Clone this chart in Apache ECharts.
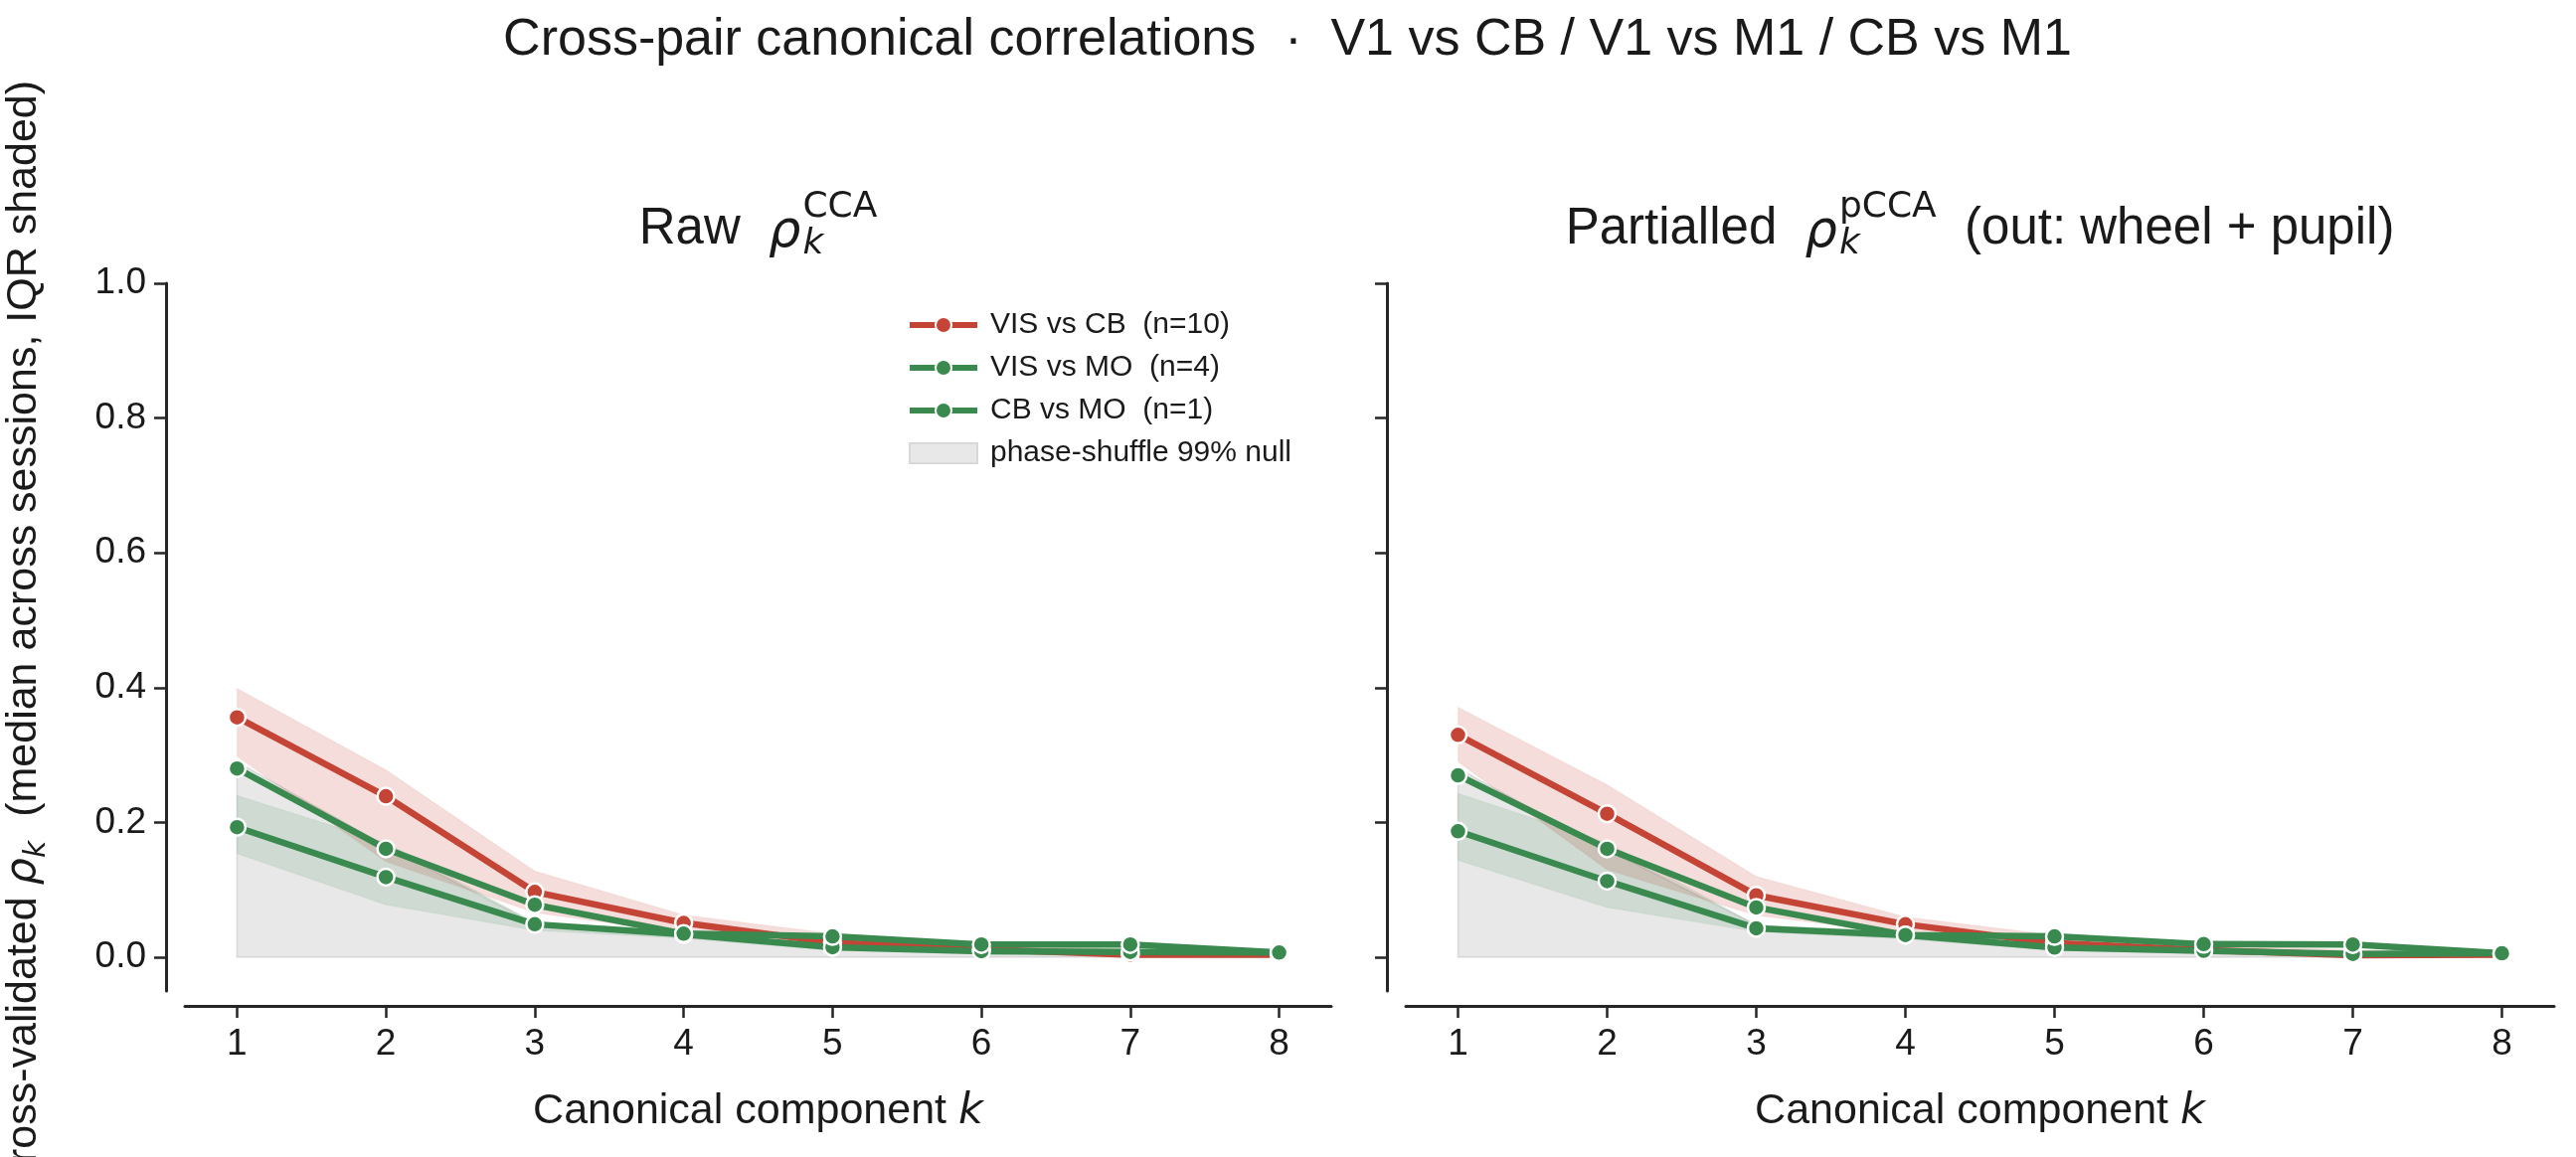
<!DOCTYPE html>
<html>
<head>
<meta charset="utf-8">
<title>Cross-pair canonical correlations</title>
<script src="https://cdn.jsdelivr.net/npm/echarts@6/dist/echarts.min.js"></script>
<style>
  html, body { margin: 0; padding: 0; background: #fff; }
  #chart { width: 2591px; height: 1164px; }
</style>
</head>
<body>
<div id="chart"></div>
<script>
// canonical component index k and y ticks
const components = [1, 2, 3, 4, 5, 6, 7, 8];
const yTicks = [0, 0.2, 0.4, 0.6, 0.8, 1.0];

// raw CCA (left panel): medians, IQR bounds, null ceiling
const rawVisCb = [0.356, 0.239, 0.097, 0.051, 0.022, 0.012, 0.004, 0.004];
const rawVisCbLo = [0.298, 0.142, 0.066, 0.036, 0.012, 0.006, 0.001, 0.001];
const rawVisCbHi = [0.399, 0.278, 0.128, 0.063, 0.035, 0.020, 0.012, 0.007];
const rawVisMo = [0.193, 0.119, 0.049, 0.034, 0.015, 0.009, 0.008, 0.007];
const rawVisMoLo = [0.154, 0.078, 0.040, 0.028, 0.010, 0.005, 0.004, 0.004];
const rawVisMoHi = [0.240, 0.170, 0.052, 0.040, 0.022, 0.013, 0.011, 0.009];
const rawCbMo = [0.280, 0.161, 0.078, 0.035, 0.031, 0.019, 0.019, 0.007];
const rawNull = [0.290, 0.165, 0.050, 0.030, 0.016, 0.011, 0.008, 0.005];

// partialled CCA (right panel)
const parVisCb = [0.330, 0.213, 0.092, 0.049, 0.021, 0.011, 0.003, 0.004];
const parVisCbLo = [0.290, 0.130, 0.062, 0.035, 0.012, 0.005, 0.001, 0.001];
const parVisCbHi = [0.371, 0.256, 0.120, 0.060, 0.033, 0.019, 0.011, 0.007];
const parVisMo = [0.187, 0.113, 0.043, 0.033, 0.0145, 0.0096, 0.005, 0.006];
const parVisMoLo = [0.144, 0.074, 0.038, 0.027, 0.010, 0.005, 0.003, 0.004];
const parVisMoHi = [0.243, 0.170, 0.048, 0.038, 0.020, 0.013, 0.009, 0.008];
const parCbMo = [0.270, 0.161, 0.074, 0.033, 0.031, 0.0195, 0.019, 0.006];
const parNull = [0.280, 0.160, 0.048, 0.030, 0.016, 0.011, 0.008, 0.005];

const zeros = components.map(() => 0);

const nameVisCb = "VIS vs CB  (n=10)";
const nameVisMo = "VIS vs MO  (n=4)";
const nameCbMo = "CB vs MO  (n=1)";
const nameNull = "phase-shuffle 99% null";

const RED = "#c44536";
const GREEN = "#3a8a4f";
const INK = "#1a1a1a";
const SANS = '"Liberation Sans", Arial, Helvetica, sans-serif';
const MATH = '"DejaVu Sans", sans-serif';

// plot areas (pixels); outer bounds off so names may run off the page
const grids = [
  { left: 186, top: 285, width: 1153, height: 712, outerBoundsMode: "none" },
  { left: 1414, top: 285, width: 1155, height: 712, outerBoundsMode: "none" },
];

function bandSeries(name, lo, hi, fill, stroke, idx) {
  return {
    type: "custom",
    name,
    xAxisIndex: idx,
    yAxisIndex: idx,
    data: components.map((k, i) => [k, lo[i], hi[i]]),
    encode: { x: 0, y: [1, 2] },
    itemStyle: { color: fill },
    silent: true,
    z: 1,
    renderItem: (params, api) => {
      if (params.dataIndex !== 0) return null;
      const upper = components.map((k, i) => api.coord([k, hi[i]]));
      const lower = components.map((k, i) => api.coord([k, lo[i]])).reverse();
      return {
        type: "polygon",
        shape: { points: upper.concat(lower) },
        style: { fill, stroke, lineWidth: 1.5 },
      };
    },
  };
}

function lineSeries(name, values, color, idx) {
  return {
    type: "line",
    name,
    xAxisIndex: idx,
    yAxisIndex: idx,
    data: components.map((k, i) => [k, values[i]]),
    symbol: "circle",
    symbolSize: 17,
    z: 3,
    lineStyle: { color, width: 6.5 },
    itemStyle: { color, borderColor: "#fff", borderWidth: 2.5 },
    emphasis: { disabled: true },
  };
}

function xAxisFor(idx) {
  return {
    type: "value",
    gridIndex: idx,
    min: 0.65,
    max: 8.35,
    offset: 15,
    name: "Canonical component {i|k}",
    nameLocation: "middle",
    nameGap: 85,
    nameTextStyle: {
      fontFamily: SANS, fontSize: 43, color: INK,
      rich: { i: { fontFamily: MATH, fontStyle: "italic", fontSize: 43, color: INK } },
    },
    axisLine: { show: true, onZero: false, lineStyle: { color: "#262626", width: 3 } },
    axisTick: { show: true, customValues: components, length: 12, lineStyle: { color: "#262626", width: 2.5 } },
    axisLabel: { customValues: components, margin: 20, fontFamily: SANS, fontSize: 37, color: INK },
    splitLine: { show: false },
  };
}

function yAxisFor(idx) {
  const axis = {
    type: "value",
    gridIndex: idx,
    min: -0.05,
    max: 1.0,
    offset: 19,
    axisLine: { show: true, onZero: false, lineStyle: { color: "#262626", width: 3 } },
    axisTick: { show: true, customValues: yTicks, length: 12, lineStyle: { color: "#262626", width: 2.5 } },
    axisLabel: {
      show: idx === 0, customValues: yTicks, margin: 20,
      fontFamily: SANS, fontSize: 37, color: INK,
      formatter: (v) => v.toFixed(1),
    },
    splitLine: { show: false },
  };
  if (idx === 0) {
    axis.name = "Cross-validated {m|ρ}{s|k}  (median across sessions, IQR shaded)";
    axis.nameLocation = "middle";
    axis.nameRotate = 90;
    axis.nameGap = 115;
    axis.nameTextStyle = {
      fontFamily: SANS, fontSize: 43, color: INK,
      rich: {
        m: { fontFamily: MATH, fontStyle: "italic", fontSize: 43, color: INK },
        s: { fontFamily: MATH, fontStyle: "italic", fontSize: 30, color: INK, padding: [26, 0, 0, 0] },
      },
    };
  }
  return axis;
}

// titles laid out by measured text width
const ctx = document.createElement("canvas").getContext("2d");
function textWidth(str, font) {
  ctx.font = font;
  return ctx.measureText(str).width;
}
function textEl(x, y, str, font) {
  return { type: "text", x, y, silent: true, style: { text: str, font, fill: INK, align: "left", verticalAlign: "middle" } };
}
function panelTitle(cx, cy, lead, sup, tail) {
  const big = `51px ${SANS}`;
  const rho = `italic 51px ${MATH}`;
  const small = `36px ${MATH}`;
  const smallIt = `italic 36px ${MATH}`;
  const w0 = textWidth(lead, big);
  const w1 = textWidth("ρ", rho);
  const ws = Math.max(textWidth("k", smallIt), textWidth(sup, small));
  const w3 = tail ? textWidth(tail, big) : 0;
  let x = cx - (w0 + w1 + 2 + ws + w3) / 2;
  const out = [];
  out.push(textEl(x, cy, lead, big));
  x += w0;
  out.push(textEl(x, cy + 4, "ρ", rho));
  x += w1 + 2;
  out.push(textEl(x, cy + 15, "k", smallIt));
  out.push(textEl(x, cy - 22, sup, small));
  x += ws;
  if (tail) out.push(textEl(x, cy, tail, big));
  return out;
}

const graphics = [
  {
    type: "text", x: 1295, y: 41, silent: true,
    style: {
      text: "Cross-pair canonical correlations  ·  V1 vs CB / V1 vs M1 / CB vs M1",
      font: `52px ${SANS}`, fill: INK, align: "center", verticalAlign: "middle",
    },
  },
  ...panelTitle(grids[0].left + grids[0].width / 2, 231, "Raw  ", "CCA", ""),
  ...panelTitle(grids[1].left + grids[1].width / 2, 231, "Partialled  ", "pCCA", "  (out: wheel + pupil)"),
];

const nullFill = "rgba(128,128,128,0.18)";
const nullEdge = "rgba(128,128,128,0.22)";
const redFill = "rgba(196,69,54,0.18)";
const greenFill = "rgba(58,138,79,0.14)";

const series = [];
[
  [rawNull, rawVisCbLo, rawVisCbHi, rawVisMoLo, rawVisMoHi, rawVisCb, rawVisMo, rawCbMo],
  [parNull, parVisCbLo, parVisCbHi, parVisMoLo, parVisMoHi, parVisCb, parVisMo, parCbMo],
].forEach((p, idx) => {
  series.push(bandSeries(nameNull, zeros, p[0], nullFill, nullEdge, idx));
  series.push(bandSeries(nameVisCb + " IQR", p[1], p[2], redFill, "rgba(196,69,54,0.05)", idx));
  series.push(bandSeries(nameVisMo + " IQR", p[3], p[4], greenFill, "rgba(58,138,79,0.05)", idx));
  series.push(lineSeries(nameVisCb, p[5], RED, idx));
  series.push(lineSeries(nameVisMo, p[6], GREEN, idx));
  series.push(lineSeries(nameCbMo, p[7], GREEN, idx));
});

const legendLine = { width: 6 };
const chart = echarts.init(document.getElementById("chart"), null, { renderer: "canvas" });
chart.setOption({
  backgroundColor: "#fff",
  animation: false,
  grid: grids,
  xAxis: [xAxisFor(0), xAxisFor(1)],
  yAxis: [yAxisFor(0), yAxisFor(1)],
  legend: {
    orient: "vertical",
    left: 907,
    top: 307,
    itemWidth: 68,
    itemHeight: 20,
    itemGap: 13,
    selectedMode: false,
    textStyle: { fontFamily: SANS, fontSize: 30, color: INK, lineHeight: 30, padding: [0, 0, 0, 8] },
    data: [
      { name: nameVisCb, lineStyle: legendLine },
      { name: nameVisMo, lineStyle: legendLine },
      { name: nameCbMo, lineStyle: legendLine },
      { name: nameNull, icon: "rect", itemStyle: { color: "#e8e8e8", borderColor: "#d8d8d8", borderWidth: 2 } },
    ],
  },
  graphic: graphics,
  series,
});
</script>
</body>
</html>
